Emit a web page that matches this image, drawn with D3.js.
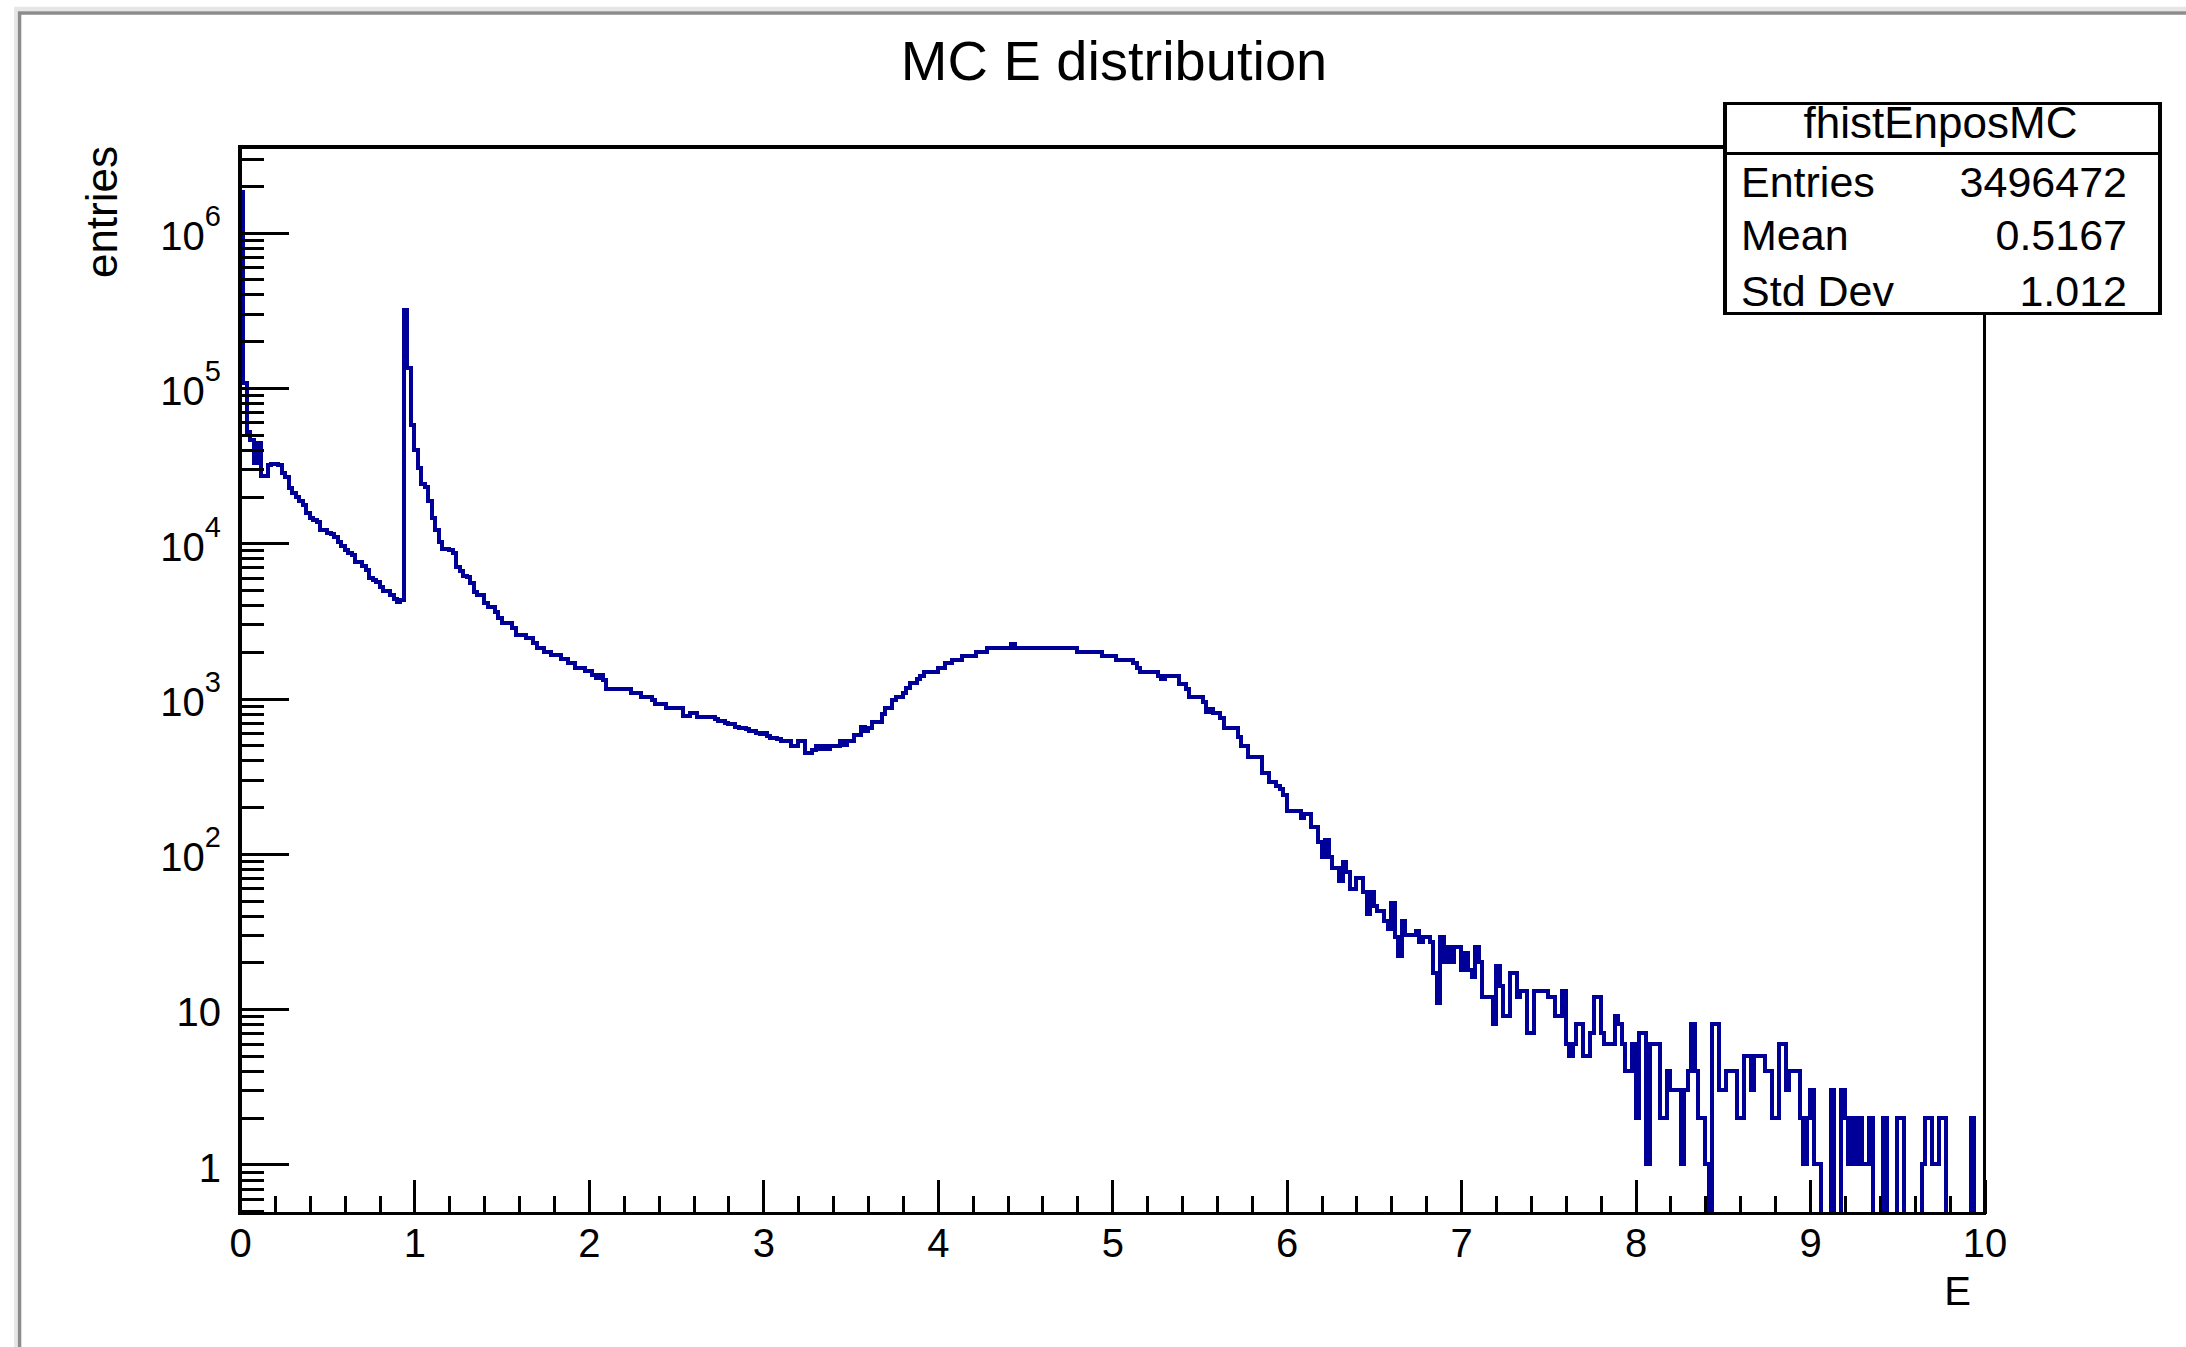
<!DOCTYPE html>
<html>
<head>
<meta charset="utf-8">
<script src="https://cdnjs.cloudflare.com/ajax/libs/d3/7.8.5/d3.min.js"></script>
<style>
  html, body { margin: 0; padding: 0; background: #ffffff; }
  svg { display: block; font-family: "Liberation Sans", Arial, Helvetica, sans-serif; }
</style>
</head>
<body>
<svg id="chart" width="2186" height="1347"></svg>
<script>
// ---- histogram definition: 500 bins of width 0.02 on [0, 10] ----
const xMin = 0, xMax = 10, nBins = 500;

// bin contents, grouped by energy range (100 bins each)
const countsE0to2 = [
  1830000, 107000, 52000, 46000, 33000, 44000, 27000, 27000, 32000, 32300,
  32300, 32000, 28500, 26900, 22600, 21000, 20000, 18700, 17600, 15600,
  14600, 14200, 13800, 12200, 12200, 11600, 11400, 10900, 10200, 9600,
  9100, 8600, 8400, 7600, 7600, 7100, 6700, 5950, 5800, 5600,
  5250, 4950, 4950, 4650, 4400, 4200, 4300, 316000, 135000, 58000,
  40000, 30400, 24000, 23000, 18700, 14500, 12200, 10200, 9150, 9150,
  9100, 8600, 7060, 6660, 6160, 6100, 5520, 4880, 4640, 4640,
  4110, 3870, 3870, 3630, 3290, 3050, 3050, 3050, 2840, 2570,
  2570, 2570, 2450, 2450, 2270, 2130, 2130, 2000, 2000, 1910,
  1910, 1910, 1790, 1790, 1690, 1690, 1580, 1580, 1580, 1510
];
const countsE2to4 = [
  1510, 1420, 1350, 1420, 1320, 1160, 1160, 1160, 1160, 1160,
  1160, 1160, 1090, 1090, 1090, 1030, 1030, 1030, 979, 918,
  918, 918, 866, 866, 866, 866, 866, 772, 772, 811,
  811, 764, 764, 764, 764, 764, 740, 720, 720, 700,
  690, 690, 660, 650, 650, 640, 620, 620, 600, 590,
  600, 570, 560, 560, 545, 533, 533, 533, 498, 498,
  533, 533, 444, 444, 467, 498, 470, 498, 470, 498,
  498, 498, 533, 505, 533, 533, 583, 583, 660, 620,
  643, 710, 710, 710, 792, 866, 866, 980, 1028, 1028,
  1091, 1164, 1254, 1254, 1331, 1399, 1490, 1490, 1490, 1490
];
const countsE4to6 = [
  1582, 1582, 1687, 1687, 1773, 1773, 1773, 1880, 1880, 1880,
  1880, 2003, 2003, 2003, 2128, 2128, 2128, 2128, 2128, 2128,
  2128, 2256, 2128, 2128, 2128, 2128, 2128, 2128, 2128, 2128,
  2128, 2128, 2128, 2128, 2128, 2128, 2128, 2128, 2128, 2128,
  2003, 2003, 2003, 2003, 2003, 2003, 2003, 1880, 1880, 1880,
  1880, 1773, 1773, 1773, 1773, 1773, 1687, 1582, 1490, 1490,
  1490, 1490, 1490, 1399, 1331, 1399, 1399, 1399, 1399, 1235,
  1238, 1148, 1028, 1028, 1028, 1028, 955, 820, 853, 804,
  804, 746, 644, 644, 644, 644, 569, 495, 495, 419,
  419, 419, 419, 330, 330, 292, 292, 275, 260, 239
];
const countsE6to8 = [
  190, 190, 190, 190, 169, 181, 181, 150, 150, 120,
  95, 122, 95, 81, 81, 67, 88, 76, 59, 59,
  70, 70, 57, 41, 57, 46, 43, 43, 37, 33,
  48, 29, 22, 37, 30, 30, 30, 32, 27, 29,
  29, 27, 17, 11, 29, 20, 25, 20, 25, 25,
  18, 23, 18, 16, 25, 20, 12, 12, 12, 8,
  19, 14, 9, 9, 17, 17, 12, 13, 13, 7,
  7, 13, 13, 13, 13, 12, 12, 9, 9, 13,
  6, 5, 6, 8, 8, 5, 5, 7, 12, 12,
  7, 6, 6, 6, 9, 8, 6, 4, 4, 6
];
const countsE8to10 = [
  2, 7, 7, 1, 6, 6, 6, 2, 2, 4,
  3, 3, 3, 1, 3, 4, 8, 4, 2, 2,
  1, 0, 8, 8, 3, 3, 4, 4, 4, 2,
  2, 5, 5, 3, 5, 5, 5, 4, 4, 2,
  2, 6, 6, 3, 4, 4, 4, 2, 1, 2,
  3, 1, 1, 0, 0, 0, 3, 0, 0, 3,
  2, 1, 2, 1, 2, 1, 1, 2, 0, 0,
  0, 2, 0, 0, 0, 2, 2, 0, 0, 0,
  0, 0, 1, 2, 2, 1, 1, 2, 2, 0,
  0, 0, 0, 0, 0, 0, 2, 0, 0, 0
];

// axis ticks and labels
const xTickValues = [0, 1, 2, 3, 4, 5, 6, 7, 8, 9, 10];
const yDecades = [0, 1, 2, 3, 4, 5, 6];
const yRange = [0.482, 3.56e6];

// texts
const chartTitle = "MC E distribution";
const xTitle = "E";
const yTitle = "entries";
const statsTitle = "fhistEnposMC";
const statsRows = [["Entries", "3496472"], ["Mean", "0.5167"], ["Std Dev", "1.012"]];

// ---- drawing ----
const W = 2186, H = 1347;
const frame = { left: 240, right: 1984.5, top: 147, bottom: 1213.7 };
const FONT = '"Liberation Sans", Arial, Helvetica, sans-serif';
const histColor = "#000099";

const counts = [].concat(countsE0to2, countsE2to4, countsE4to6, countsE6to8, countsE8to10);
const binWidth = (xMax - xMin) / nBins;

const svg = d3.select("#chart");

const x = d3.scaleLinear().domain([xMin, xMax]).range([frame.left, frame.right]);
const y = d3.scaleLog().domain(yRange).range([frame.bottom, frame.top]);
const yClamp = v => Math.max(v, yRange[0]);

// canvas background and bevelled border
svg.append("rect").attr("width", W).attr("height", H).attr("fill", "#ffffff");
svg.append("path")
  .attr("d", `M16.3,${H} V8.9 H${W}`)
  .attr("fill", "none").attr("stroke", "#e6e6e6").attr("stroke-width", 4.3);
svg.append("path")
  .attr("d", `M19.6,${H} V13 H${W}`)
  .attr("fill", "none").attr("stroke", "#8c8c8c").attr("stroke-width", 3.4);

// title
svg.append("text")
  .attr("x", 1114).attr("y", 80)
  .attr("text-anchor", "middle")
  .attr("font-family", FONT).attr("font-size", 56)
  .attr("fill", "#000")
  .text(chartTitle);

// histogram outline (step line)
const pts = [[xMin, yRange[0]]];
counts.forEach((c, i) => pts.push([xMin + i * binWidth, yClamp(c)]));
pts.push([xMax, yClamp(counts[counts.length - 1])]);
pts.push([xMax, yRange[0]]);

svg.append("defs").append("clipPath").attr("id", "frameClip")
  .append("rect")
  .attr("x", frame.left).attr("y", frame.top)
  .attr("width", frame.right - frame.left).attr("height", frame.bottom - frame.top);

svg.append("path")
  .datum(pts)
  .attr("clip-path", "url(#frameClip)")
  .attr("fill", "none")
  .attr("stroke", histColor)
  .attr("stroke-width", 4)
  .attr("stroke-linejoin", "miter")
  .attr("shape-rendering", "crispEdges")
  .attr("d", d3.line()
    .x(d => x(d[0]))
    .y(d => y(d[1]))
    .curve(d3.curveStepAfter));

// x axis: major and minor ticks pointing into the frame
const xMinor = d3.range(1, 50).map(k => k * 0.2).filter(v => Math.abs(v - Math.round(v)) > 1e-6);

const gxMinor = svg.append("g")
  .attr("transform", `translate(0,${frame.bottom})`)
  .call(d3.axisBottom(x).tickValues(xMinor).tickSize(-18).tickSizeOuter(0).tickFormat(() => ""));
gxMinor.select(".domain").remove();

const gx = svg.append("g")
  .attr("transform", `translate(0,${frame.bottom})`)
  .call(d3.axisBottom(x).tickValues(xTickValues).tickSize(-34).tickSizeOuter(0)
    .tickPadding(15).tickFormat(d3.format("d")));
gx.select(".domain").remove();
gx.attr("font-family", FONT).attr("font-size", 40);

// y axis: decades with exponent labels, minor ticks at 2..9 x 10^k
const yMinor = [];
for (let k = -1; k <= 6; k++) {
  for (let m = 2; m <= 9; m++) {
    const v = m * Math.pow(10, k);
    if (v > yRange[0] && v < yRange[1]) yMinor.push(v);
  }
}
const gyMinor = svg.append("g")
  .attr("transform", `translate(${frame.left},0)`)
  .call(d3.axisLeft(y).tickValues(yMinor).tickSize(-24).tickSizeOuter(0).tickFormat(() => ""));
gyMinor.select(".domain").remove();

const gy = svg.append("g")
  .attr("transform", `translate(${frame.left},0)`)
  .call(d3.axisLeft(y).tickValues(yDecades.map(k => Math.pow(10, k)))
    .tickSize(-49).tickSizeOuter(0).tickPadding(19).tickFormat(() => ""));
gy.select(".domain").remove();
gy.attr("font-family", FONT).attr("font-size", 40);
gy.selectAll(".tick text").each(function (d) {
  const k = Math.round(Math.log10(d));
  const t = d3.select(this).attr("dy", "0.42em");
  if (k < 2) {
    t.text(String(Math.round(d)));
  } else {
    t.append("tspan").text("10");
    t.append("tspan").attr("dy", -24).attr("font-size", 29).text(String(k));
  }
});

svg.selectAll(".tick line")
  .attr("stroke", "#000").attr("stroke-width", 3)
  .attr("shape-rendering", "crispEdges");
svg.selectAll(".tick text").attr("fill", "#000");

// frame
svg.append("rect")
  .attr("x", frame.left).attr("y", frame.top)
  .attr("width", frame.right - frame.left).attr("height", frame.bottom - frame.top)
  .attr("fill", "none").attr("stroke", "#000").attr("stroke-width", 3.5)
  .attr("shape-rendering", "crispEdges");

// axis titles
svg.append("text")
  .attr("x", 1971).attr("y", 1305)
  .attr("text-anchor", "end")
  .attr("font-family", FONT).attr("font-size", 40)
  .attr("fill", "#000")
  .text(xTitle);

svg.append("text")
  .attr("transform", "translate(117,146) rotate(-90)")
  .attr("text-anchor", "end")
  .attr("font-family", FONT).attr("font-size", 44)
  .attr("fill", "#000")
  .text(yTitle);

// statistics box
const sb = { x: 1725, y: 103.3, w: 435, h: 210, sep: 153.3 };
const gs = svg.append("g").attr("font-family", FONT).attr("fill", "#000");
gs.append("rect")
  .attr("x", sb.x).attr("y", sb.y).attr("width", sb.w).attr("height", sb.h)
  .attr("fill", "#fff").attr("stroke", "#000").attr("stroke-width", 3.4)
  .attr("shape-rendering", "crispEdges");
gs.append("line")
  .attr("x1", sb.x).attr("x2", sb.x + sb.w).attr("y1", sb.sep).attr("y2", sb.sep)
  .attr("stroke", "#000").attr("stroke-width", 3.4)
  .attr("shape-rendering", "crispEdges");
gs.append("text")
  .attr("x", sb.x + sb.w / 2 - 2).attr("y", 138)
  .attr("text-anchor", "middle").attr("font-size", 44)
  .text(statsTitle);
const rowBase = [197, 250, 306];
statsRows.forEach((r, i) => {
  gs.append("text").attr("x", 1741).attr("y", rowBase[i])
    .attr("font-size", 43).text(r[0]);
  gs.append("text").attr("x", 2127).attr("y", rowBase[i])
    .attr("text-anchor", "end").attr("font-size", 43).text(r[1]);
});
</script>
</body>
</html>
